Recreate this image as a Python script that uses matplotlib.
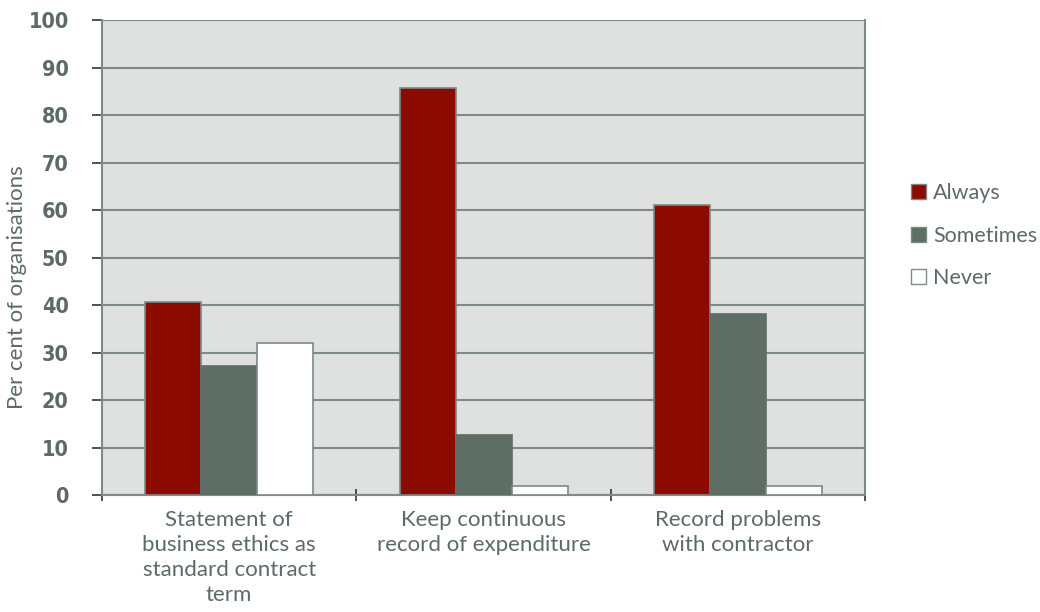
import numpy as np
import matplotlib.pyplot as plt
from matplotlib.patches import Patch

categories = ["Statement of\nbusiness ethics as\nstandard contract\nterm",
              "Keep continuous\nrecord of expenditure",
              "Record problems\nwith contractor"]
always = [40.6, 85.7, 61.1]
sometimes = [27.2, 12.6, 38.1]
never = [32.0, 1.9, 1.9]
series_names = ["Always", "Sometimes", "Never"]
yticks = np.arange(0, 101, 10)

text_col = "#5c6b64"
grid_col = "#7d8a85"
colors = ["#8b0b00", "#5e6e65", "#ffffff"]

fig = plt.figure(figsize=(10.4, 6.12), dpi=100)
ax = fig.add_axes([0.098, 0.191, 0.734, 0.776])
ax.set_facecolor("#dfe1e0")

x = np.arange(len(categories))
w = 0.22
for i, (vals, c) in enumerate(zip([always, sometimes, never], colors)):
    ec = "#5e6e65" if i == 1 else grid_col
    ax.bar(x + (i - 1) * w, vals, w, color=c, edgecolor=ec, linewidth=1.2, zorder=3)

ax.set_xlim(-0.5, len(categories) - 0.5)
ax.set_ylim(0, 100)
ax.set_yticks(yticks)
ax.yaxis.grid(True, color=grid_col, linewidth=1.5, zorder=0)
ax.set_axisbelow(True)

for s in ["left", "bottom", "right"]:
    ax.spines[s].set_color(grid_col)
    ax.spines[s].set_linewidth(1.5)
ax.spines["top"].set_visible(False)

# category labels centred, ticks on category boundaries
ax.set_xticks(x)
ax.set_xticklabels(categories, fontsize=16, color=text_col, family="Lato",
                   linespacing=1.3)
ax.tick_params(axis="x", length=0, pad=11)
ax.set_xticks(np.arange(-0.5, len(categories), 1), minor=True)
ax.tick_params(axis="x", which="minor", length=8, width=1.2, color="#333333",
               direction="inout")

ax.tick_params(axis="y", length=7, width=1.2, color="#333333", pad=17)
for lab in ax.get_yticklabels():
    lab.set_fontfamily("DejaVu Sans")
    lab.set_fontstretch("condensed")
    lab.set_fontweight("bold")
    lab.set_fontsize(15.5)
    lab.set_color(text_col)

fig.text(0.016, 0.531, "Per cent of organisations", rotation=90, fontsize=16,
         color=text_col, family="Lato", ha="center", va="center")

handles = [Patch(facecolor=c, edgecolor=grid_col, linewidth=1) for c in colors]
leg = fig.legend(handles, series_names, loc="center left",
                 bbox_to_anchor=(0.857, 0.615), frameon=False,
                 prop={"family": "Lato", "size": 15.5}, labelcolor=text_col,
                 handlelength=0.7, handleheight=0.7, handletextpad=0.35,
                 labelspacing=1.05)

fig.savefig("out.png", dpi=100)
